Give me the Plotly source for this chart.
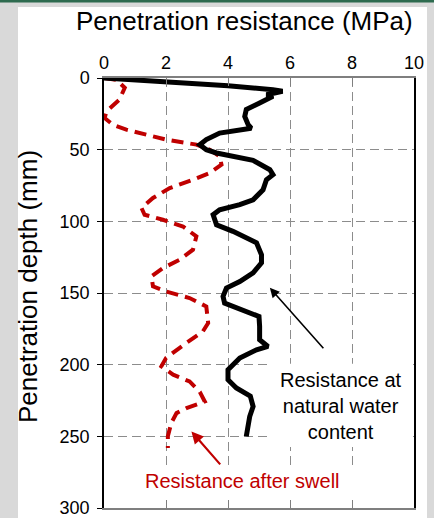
import plotly.graph_objects as go

# Resistance at natural water content (black)
black_depth = [0, 2.4, 5.4, 8.2, 9.3, 11.7, 12.8, 17.5, 22.0, 26.8, 32.6, 35.0, 36.0, 38.4, 43.0, 46.5,
               50.0, 52.3, 57.5, 64.0, 67.5, 71.0, 78.0, 85.0, 88.4, 91.9, 95.4, 102.4, 107.0, 111.0,
               115.0, 123.3, 129.0, 136.0, 142.0, 146.5, 152.4, 157.0, 161.7, 166.4, 173.3, 182.6,
               187.3, 189.6, 195.4, 203.6, 210.5, 216.3, 222.0, 229.2, 236.2, 243.1, 250.0]
black_mpa = [0.0, 2.0, 4.0, 5.45, 5.76, 5.24, 5.45, 5.02, 4.59, 4.54, 4.65, 4.75, 4.38, 3.73, 3.30, 3.09,
             3.30, 3.63, 4.81, 5.35, 5.45, 5.24, 5.13, 4.81, 4.38, 3.73, 3.52, 3.63, 4.16, 4.55,
             4.92, 5.08, 5.08, 4.81, 4.38, 3.95, 3.84, 3.89, 4.48, 5.00, 5.02, 5.02,
             5.29, 4.92, 4.38, 4.00, 4.00, 4.27, 4.72, 4.81, 4.70, 4.65, 4.59]

# Resistance after swell (red dashed)
red_depth = [0, 1.2, 6.8, 15.0, 23.3, 27.9, 32.6, 36.0, 43.0, 46.5, 50.0, 54.7, 60.5, 66.3, 71.0, 76.8,
             83.7, 90.7, 95.4, 98.9, 103.6, 110.5, 119.8, 126.8, 132.6, 138.4, 145.4, 148.9, 153.5,
             159.4, 171.0, 176.8, 186.5, 195.4, 201.2, 207.0, 211.7, 219.0, 225.7, 230.3, 233.8,
             240.7, 250.0, 258.2]
red_mpa = [0.0, 0.40, 0.67, 0.50, 0.08, 0.02, 0.29, 0.72, 2.00, 2.98, 3.41, 3.73, 3.79, 3.41, 2.87, 2.12,
           1.58, 1.21, 1.31, 1.90, 2.55, 2.98, 2.87, 2.44, 1.90, 1.53, 1.58, 2.00, 2.76,
           3.30, 3.36, 3.19, 2.55, 2.00, 1.85, 2.23, 2.76, 3.09, 3.25, 2.66, 2.34,
           2.17, 2.06, 2.06]

x_ticks = [0, 2, 4, 6, 8, 10]
y_ticks = [0, 50, 100, 150, 200, 250, 300]

FONT = "Liberation Sans, Arial, sans-serif"
RED = "#c00000"
GRID_DASH = "9px,5px"

fig = go.Figure()
fig.add_trace(go.Scatter(x=red_mpa, y=red_depth, mode="lines",
                         line=dict(color=RED, width=4, dash="12px,7px"), showlegend=False,
                         hoverinfo="skip"))
fig.add_trace(go.Scatter(x=black_mpa, y=black_depth, mode="lines",
                         line=dict(color="black", width=5), showlegend=False,
                         hoverinfo="skip"))

shapes = [
    # white panel
    dict(type="rect", xref="paper", yref="paper", x0=-0.2774, x1=1.0419, y0=-0.03, y1=1.1651,
         fillcolor="white", line=dict(width=0), layer="below"),
    # green strip on top
    dict(type="rect", xref="paper", yref="paper", x0=-0.4, x1=1.1, y0=1.1756, y1=1.19,
         fillcolor="#2e6b4f", line=dict(width=0), layer="above"),
    # text masks over gridlines
    dict(type="rect", xref="x", yref="y", x0=5.35, x1=9.97, y0=199.3, y1=257.5,
         fillcolor="white", line=dict(width=0), layer="between"),
    dict(type="rect", xref="x", yref="y", x0=0.8, x1=8.5, y0=271.3, y1=298.5,
         fillcolor="white", line=dict(width=0), layer="between"),
]

annotations = [
    dict(text="Penetration resistance (MPa)", xref="paper", yref="paper", x=0.452, y=1.1326,
         showarrow=False, font=dict(family=FONT, size=26, color="black"), xanchor="center", yanchor="middle"),
    dict(text="Penetration depth (mm)", xref="paper", yref="paper", x=-0.245, y=0.514, textangle=-90,
         showarrow=False, font=dict(family=FONT, size=26, color="black"), xanchor="center", yanchor="middle"),
    dict(text="Resistance at<br>natural water<br>content", xref="x", yref="y", x=7.64, y=228.7,
         showarrow=False, font=dict(family=FONT, size=20, color="black"), xanchor="center", yanchor="middle"),
    dict(text="Resistance after swell", xref="x", yref="y", x=4.47, y=281.5,
         showarrow=False, font=dict(family=FONT, size=20, color=RED), xanchor="center", yanchor="middle"),
    # arrows
    dict(text="", x=5.35, y=146.4, xref="x", yref="y", ax=7.12, ay=189.6, axref="x", ayref="y",
         showarrow=True, arrowhead=2, arrowsize=1.2, arrowwidth=1.6, arrowcolor="black"),
    dict(text="", x=2.82, y=246.6, xref="x", yref="y", ax=3.79, ay=270.6, axref="x", ayref="y",
         showarrow=True, arrowhead=2, arrowsize=1.1, arrowwidth=2.2, arrowcolor=RED),
]

fig.update_layout(
    width=434, height=518,
    margin=dict(l=104, r=20, t=78, b=10),
    paper_bgcolor="#d9d9d9", plot_bgcolor="white",
    font=dict(family=FONT, size=18, color="black"),
    shapes=shapes, annotations=annotations,
    xaxis=dict(side="top", range=[0, 10], tickvals=x_ticks, ticktext=[str(v) for v in x_ticks],
               showgrid=True, gridcolor="#8c8c8c", griddash=GRID_DASH, gridwidth=1,
               showline=True, linecolor="#7f7f7f", linewidth=1.5, mirror="ticks",
               ticks="inside", ticklen=8, tickcolor="#7f7f7f", zeroline=False, automargin=False,
               ticklabeloverflow="allow",
               tickfont=dict(family=FONT, size=18, color="black")),
    yaxis=dict(range=[300, 0], tickvals=y_ticks, ticktext=[str(v) for v in y_ticks],
               showgrid=True, gridcolor="#8c8c8c", griddash=GRID_DASH, gridwidth=1,
               showline=True, linecolor="black", linewidth=1.5, mirror=True,
               ticks="outside", ticklen=5, tickcolor="black", zeroline=False, automargin=False,
               ticklabelstandoff=4, ticklabeloverflow="allow",
               tickfont=dict(family=FONT, size=18, color="black")),
)

fig.write_html("out.html", config={"displayModeBar": False},
               post_script="document.body.style.margin='0px';document.body.style.padding='0px';"
                           "document.body.style.overflow='hidden';")
